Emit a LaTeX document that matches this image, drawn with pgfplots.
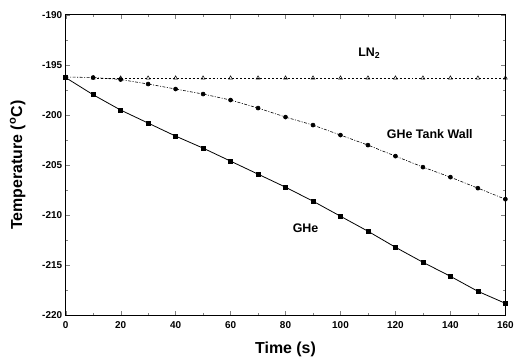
\documentclass[border=0pt]{standalone}
\usepackage{pgfplots}
\pgfplotsset{compat=1.18}
\usepackage{fontspec}
\setmainfont{Liberation Sans}
\begin{document}
\begin{tikzpicture}
\begin{axis}[
  name=ax,
  scale only axis,
  width=442pt, height=302pt,
  xmin=0, xmax=160, ymin=-220, ymax=-190,
  xtick={0,20,...,160}, ytick={-220,-215,...,-190},
  minor x tick num=1, minor y tick num=1,
  tick align=inside,
  axis line style={line width=1pt},
  major tick length=4pt, minor tick length=2.5pt,
  /pgf/number format/assume math mode=true,
  ticklabel style={font=\bfseries\fontsize{10}{11}\selectfont},
  xticklabel style={yshift=-3pt},
  yticklabel style={/pgf/number format/.cd, fixed, 1000 sep={}},
  xlabel={\textbf{Time (s)}},
  ylabel={\textbf{Temperature (\textsuperscript{o}C)}},
  label style={font=\fontsize{16}{18}\selectfont},
  xlabel style={yshift=-6pt},
  ylabel style={yshift=10pt},
  clip=false,
]
\addplot[black, line width=0.8pt, mark=square*, mark size=2pt, mark options={solid}] coordinates {
(0,-196.26) (10,-197.97) (20,-199.5) (30,-200.8) (40,-202.1) (50,-203.3) (60,-204.6) (70,-205.9)
(80,-207.2) (90,-208.6) (100,-210.1) (110,-211.6) (120,-213.2) (130,-214.7) (140,-216.1) (150,-217.6) (160,-218.8)};
\addplot[black, line width=0.6pt, dash pattern=on 3pt off 1.5pt on 1pt off 1.5pt, mark=*, mark size=2pt, mark options={solid}] coordinates {
(0,-196.2) (10,-196.25) (20,-196.45) (30,-196.9) (40,-197.4) (50,-197.9) (60,-198.5) (70,-199.3)
(80,-200.2) (90,-201.0) (100,-202.0) (110,-203.0) (120,-204.1) (130,-205.2) (140,-206.2) (150,-207.3) (160,-208.4)};
\addplot[black, line width=0.5pt, dash pattern=on 2pt off 2pt, mark=triangle, mark size=2.2pt, mark options={solid}] coordinates {
(10,-196.3) (20,-196.3) (30,-196.3) (40,-196.3) (50,-196.3) (60,-196.3) (70,-196.3)
(80,-196.3) (90,-196.3) (100,-196.3) (110,-196.3) (120,-196.3) (130,-196.3) (140,-196.3) (150,-196.3) (160,-196.3)};
\node[font=\bfseries\fontsize{12.5}{14}\selectfont] at (axis cs:110.5,-193.8) {LN\textsubscript{2}};
\node[font=\bfseries\fontsize{12.5}{14}\selectfont] at (axis cs:132.5,-201.9) {GHe Tank Wall};
\node[font=\bfseries\fontsize{12.5}{14}\selectfont] at (axis cs:87.3,-211.3) {GHe};
\end{axis}
\path[use as bounding box] ([shift={(-66pt,-44pt)}]ax.south west) rectangle ([shift={(9pt,15pt)}]ax.north east);
\end{tikzpicture}
\end{document}
